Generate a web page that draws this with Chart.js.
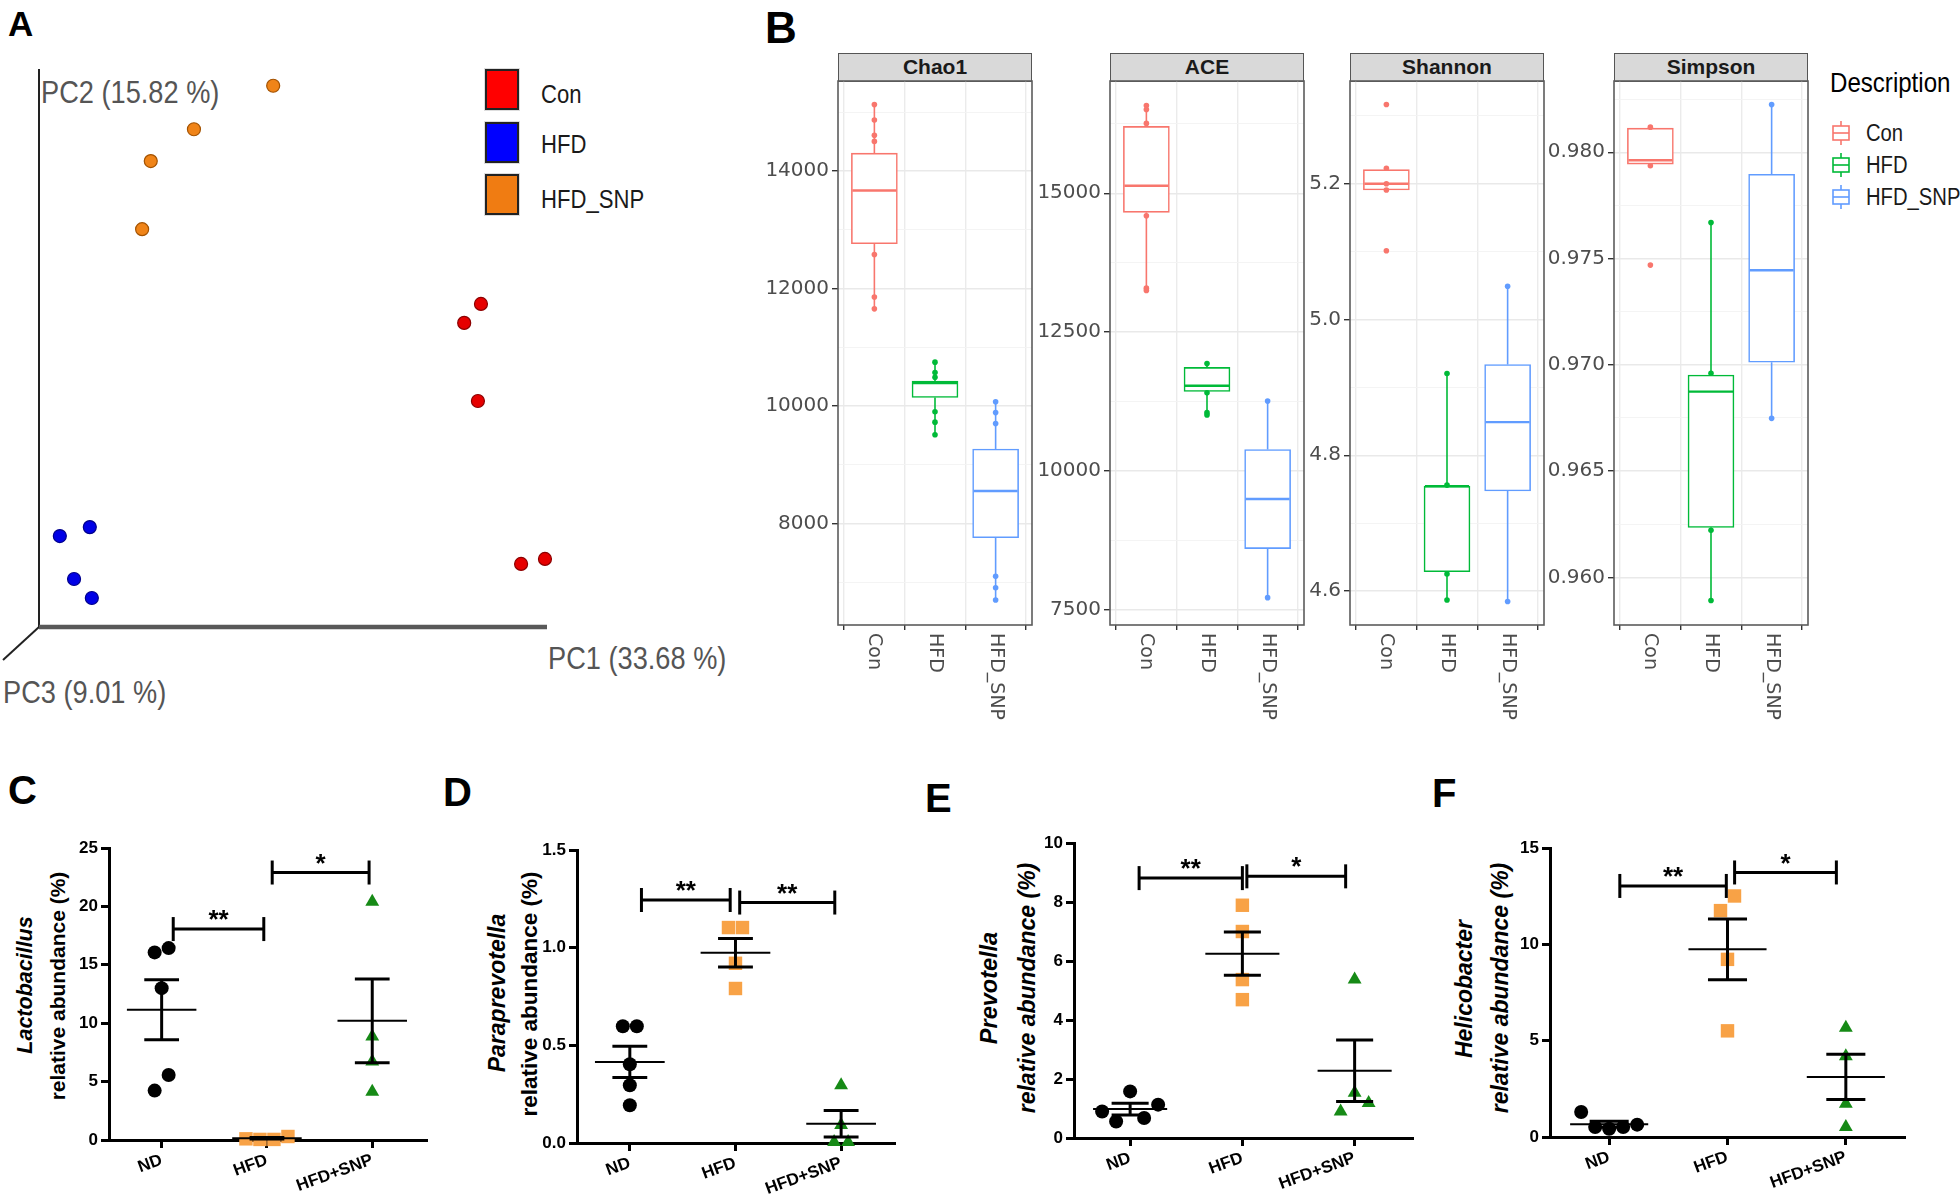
<!DOCTYPE html>
<html>
<head>
<meta charset="utf-8">
<title>Gut microbiota: PCoA, alpha diversity and genus abundance</title>
<script src="https://cdn.jsdelivr.net/npm/chart.js@4.4.1/dist/chart.umd.min.js"></script>
<style>
  html, body { margin: 0; background: #fff; }
  body { position: relative; width: 1960px; height: 1195px; overflow: hidden;
         font-family: "Liberation Sans", Arial, sans-serif; }
  canvas { position: absolute; }
  .txt { position: absolute; white-space: nowrap; line-height: 1; }
  .letter { position: absolute; line-height: 1; font-weight: bold; color: #000; }
  .narrow { transform: scaleX(0.85); transform-origin: 0 50%; }
  .pc { color: #555; font-size: 32px; }
  .sq { position: absolute; box-sizing: border-box; width: 34px; height: 41px;
        border: 2px solid #222; box-shadow: 0 0 0 1px #ddd; }
  .leg { color: #1a1a1a; font-size: 26px; }
  .strip { position: absolute; box-sizing: border-box; top: 53px; width: 194px; height: 29px;
           background: #d9d9d9; border: 1.5px solid #555; text-align: center;
           font-weight: bold; font-size: 21px; line-height: 26px; color: #1a1a1a; }
  .ico { position: absolute; }
  .ytitle { position: absolute; white-space: nowrap; line-height: 1; font-weight: bold;
            color: #000; transform: translate(-50%, -50%) rotate(-90deg); }
  .it { font-style: italic; }
</style>
</head>
<body>
<!-- panel letters -->
<div class="letter" style="left:8px;top:6px;font-size:35px">A</div>
<div class="letter" style="left:765px;top:6px;font-size:44px">B</div>
<div class="letter" style="left:8px;top:770px;font-size:40px">C</div>
<div class="letter" style="left:443px;top:772px;font-size:40px">D</div>
<div class="letter" style="left:925px;top:778px;font-size:40px">E</div>
<div class="letter" style="left:1432px;top:773px;font-size:40px">F</div>

<!-- A: axis names and legend -->
<div class="txt pc narrow" style="left:41px;top:76px">PC2 (15.82 %)</div>
<div class="txt pc narrow" style="left:548px;top:642px">PC1 (33.68 %)</div>
<div class="txt pc narrow" style="left:3px;top:676px">PC3 (9.01 %)</div>
<div class="sq" style="left:485px;top:69px;background:#ff0000"></div>
<div class="sq" style="left:485px;top:122px;background:#0000ff"></div>
<div class="sq" style="left:485px;top:174px;background:#f07c12"></div>
<div class="txt leg narrow" style="left:541px;top:81px">Con</div>
<div class="txt leg narrow" style="left:541px;top:131px">HFD</div>
<div class="txt leg narrow" style="left:541px;top:186px">HFD_SNP</div>

<!-- B: facet strips and legend -->
<div class="strip" style="left:838px">Chao1</div>
<div class="strip" style="left:1110px">ACE</div>
<div class="strip" style="left:1350px">Shannon</div>
<div class="strip" style="left:1614px">Simpson</div>
<div class="txt" style="left:1830px;top:69px;font-size:28px;color:#000;transform:scaleX(0.86);transform-origin:0 50%">Description</div>
<svg class="ico" style="left:1831px;top:120px" width="20" height="26"><g stroke="#F8766D" stroke-width="1.6" fill="#fff"><line x1="10" y1="1" x2="10" y2="25"/><rect x="2" y="6" width="16" height="14"/><line x1="2" y1="13" x2="18" y2="13"/></g></svg>
<svg class="ico" style="left:1831px;top:152px" width="20" height="26"><g stroke="#00BA38" stroke-width="1.6" fill="#fff"><line x1="10" y1="1" x2="10" y2="25"/><rect x="2" y="6" width="16" height="14"/><line x1="2" y1="13" x2="18" y2="13"/></g></svg>
<svg class="ico" style="left:1831px;top:184px" width="20" height="26"><g stroke="#619CFF" stroke-width="1.6" fill="#fff"><line x1="10" y1="1" x2="10" y2="25"/><rect x="2" y="6" width="16" height="14"/><line x1="2" y1="13" x2="18" y2="13"/></g></svg>
<div class="txt" style="left:1866px;top:122px;font-size:23px;color:#1a1a1a;transform:scaleX(0.88);transform-origin:0 50%">Con</div>
<div class="txt" style="left:1866px;top:154px;font-size:23px;color:#1a1a1a;transform:scaleX(0.88);transform-origin:0 50%">HFD</div>
<div class="txt" style="left:1866px;top:186px;font-size:23px;color:#1a1a1a;transform:scaleX(0.88);transform-origin:0 50%">HFD_SNP</div>

<!-- C-F: y axis titles -->
<div class="ytitle it" style="left:26px;top:985px;font-size:21.5px">Lactobacillus</div>
<div class="ytitle" style="left:57px;top:986px;font-size:21px">relative abundance (%)</div>
<div class="ytitle it" style="left:497px;top:993px;font-size:23px">Paraprevotella</div>
<div class="ytitle" style="left:530px;top:994px;font-size:22.5px">relative abundance (%)</div>
<div class="ytitle it" style="left:990px;top:988px;font-size:23.5px">Prevotella</div>
<div class="ytitle it" style="left:1027px;top:988px;font-size:23px">relative abundance (%)</div>
<div class="ytitle it" style="left:1464px;top:989px;font-size:23px">Helicobacter</div>
<div class="ytitle it" style="left:1500px;top:988px;font-size:23px">relative abundance (%)</div>

<canvas id="pcoa"></canvas>
<canvas id="chao1"></canvas>
<canvas id="ace"></canvas>
<canvas id="shannon"></canvas>
<canvas id="simpson"></canvas>
<canvas id="lacto"></canvas>
<canvas id="para"></canvas>
<canvas id="prev"></canvas>
<canvas id="heli"></canvas>

<script>
Chart.defaults.font.family = '"Liberation Sans", Arial, sans-serif';
Chart.defaults.animation = false;

// ---- A: PCoA, sample positions on the projected plot (percent of axis extent)
const pcoaLabels = ["Con", "HFD", "HFD_SNP"];
const conPcX = [87.0, 83.7, 86.4, 94.9, 99.6];
const conPcY = [57.9, 54.5, 40.5, 11.3, 12.2];
const hfdPcX = [10.0, 4.1, 6.9, 10.4];
const hfdPcY = [17.9, 16.3, 8.6, 5.2];
const snpPcX = [46.1, 30.5, 22.0, 20.3];
const snpPcY = [97.0, 89.2, 83.5, 71.3];

// ---- B: alpha diversity, [min, q1, median, q3, max] per group + plotted samples
const alphaGroups = ["Con", "HFD", "HFD_SNP"];
const chao1Box = [[11655, 12763, 13670, 14305, 15132], [9510, 10145, 10393, 10426, 10747], [6698, 7759, 8554, 9269, 10072]];
const chao1Pts = [[15132, 14868, 14611, 14506, 12579, 11856, 11655], [10747, 10570, 10490, 9903, 9726, 9510], [10072, 9888, 9702, 7100, 6907, 6698]];
const aceBox = [[13248, 14656, 15136, 16206, 16582], [11003, 11428, 11531, 11862, 11938], [7712, 8597, 9489, 10383, 11255]];
const acePts = [[16582, 16510, 16260, 14595, 13290, 13248], [11930, 11403, 11046, 11003], [11255, 7712]];
const shannonBox = [[5.1909, 5.1909, 5.2000, 5.2208, 5.2228], [4.5867, 4.6284, 4.7545, 4.7545, 4.9204], [4.5846, 4.7473, 4.8488, 4.9337, 5.0490]];
const shannonPts = [[5.3167, 5.2228, 5.2000, 5.1909, 5.1012], [4.9204, 4.7560, 4.6250, 4.5867], [5.0490, 4.5846]];
const simpsonBox = [[0.97936, 0.97944, 0.97962, 0.98113, 0.98118], [0.95891, 0.96235, 0.96874, 0.96952, 0.97669], [0.96748, 0.97012, 0.97445, 0.97896, 0.98224]];
const simpsonPts = [[0.98118, 0.97936, 0.97469], [0.97669, 0.96960, 0.96222, 0.95891], [0.98224, 0.96748]];

// ---- C-F: relative abundance (%) of genera, mean and SEM, significance brackets [from, to, height, mark]
const genusGroups = ["ND", "HFD", "HFD+SNP"];
const lactoND = [16.06, 16.43, 13.0, 4.23, 5.57];
const lactoHFD = [0.1, 0.05, 0.05, 0.3];
const lactoSNP = [20.4, 8.86, 6.72, 4.14];
const lactoMean = [11.15, 0.15, 10.2];
const lactoSem = [2.57, 0.06, 3.58];
const lactoSig = [[1.11, 1.97, 18.06, "**"], [2.05, 2.97, 22.9, "*"]];

const paraND = [0.598, 0.598, 0.403, 0.296, 0.193];
const paraHFD = [1.103, 1.103, 0.92, 0.791];
const paraSNP = [0.296, 0.092, 0.005, 0.005];
const paraMean = [0.415, 0.974, 0.099];
const paraSem = [0.08, 0.073, 0.068];
const paraSig = [[1.11, 1.95, 1.244, "**"], [2.04, 2.94, 1.231, "**"]];

const prevND = [0.90, 0.56, 1.58, 0.68, 1.13];
const prevHFD = [7.89, 7.0, 5.37, 4.69];
const prevSNP = [5.37, 0.90, 1.53, 1.19];
const prevMean = [0.98, 6.25, 2.28];
const prevSem = [0.2, 0.73, 1.04];
const prevSig = [[1.08, 2.0, 8.81, "**"], [2.04, 2.92, 8.87, "*"]];

const heliND = [1.30, 0.52, 0.43, 0.52, 0.64];
const heliHFD = [11.75, 12.51, 9.22, 5.51];
const heliSNP = [5.67, 4.19, 1.73, 0.52];
const heliMean = [0.66, 9.74, 3.12];
const heliSem = [0.16, 1.58, 1.17];
const heliSig = [[1.09, 1.99, 13.03, "**"], [2.06, 2.92, 13.73, "*"]];

// ---- helpers
function place(id, rect) {
  const c = document.getElementById(id);
  c.width = rect[2];
  c.height = rect[3];
  Object.assign(c.style, {left: rect[0] + "px", top: rect[1] + "px", width: rect[2] + "px", height: rect[3] + "px"});
  return c;
}

// padding + axis sizes so that the chart area lands on `area` (page coords)
function fit(rect, area) {
  return {
    padding: {left: 0, top: area[1] - rect[1], right: rect[0] + rect[2] - area[2], bottom: 0},
    yWidth: area[0] - rect[0],
    xHeight: rect[1] + rect[3] - area[3]
  };
}

function seg(ctx, x1, y1, x2, y2) {
  ctx.beginPath();
  ctx.moveTo(x1, y1);
  ctx.lineTo(x2, y2);
  ctx.stroke();
}

// tick values on a fixed step inside [lo, hi]
function stepTicks(lo, hi, step) {
  const out = [];
  for (let k = Math.ceil(lo / step - 1e-9); k * step <= hi + 1e-12; k++) {
    out.push({value: Math.round(k * step * 1e6) / 1e6});
  }
  return out;
}

const categoryTicks = s => { s.ticks = [1, 2, 3].map(v => ({value: v})); };

// ---- A
const pcoaColors = ["#e60000", "#0000e6", "#f08418"];
const pcoaEdges = ["#8c0000", "#00008c", "#a35200"];
const pcoaRect = [0, 0, 760, 740];
const pcoaArea = [39, 69, 547, 627];

const pcoaAxes = {
  id: "pcoaAxes",
  beforeDatasetsDraw(chart) {
    const {ctx, chartArea: a} = chart;
    ctx.save();
    ctx.strokeStyle = "#222";
    ctx.lineWidth = 2;
    seg(ctx, a.left, a.top, a.left, a.bottom);
    seg(ctx, a.left, a.bottom, a.left - 36, a.bottom + 33);
    ctx.strokeStyle = "#595959";
    ctx.lineWidth = 4.5;
    seg(ctx, a.left, a.bottom, a.right, a.bottom);
    ctx.restore();
  }
};

new Chart(place("pcoa", pcoaRect), {
  type: "scatter",
  data: {
    datasets: [[conPcX, conPcY], [hfdPcX, hfdPcY], [snpPcX, snpPcY]].map(([xs, ys], g) => ({
      label: pcoaLabels[g],
      data: xs.map((x, i) => ({x: x, y: ys[i]})),
      pointRadius: 6.5,
      backgroundColor: pcoaColors[g],
      borderColor: pcoaEdges[g],
      borderWidth: 1.2,
      clip: false
    }))
  },
  options: {
    responsive: false,
    events: [],
    layout: {padding: {
      left: pcoaArea[0] - pcoaRect[0], top: pcoaArea[1] - pcoaRect[1],
      right: pcoaRect[0] + pcoaRect[2] - pcoaArea[2], bottom: pcoaRect[1] + pcoaRect[3] - pcoaArea[3]
    }},
    plugins: {legend: {display: false}, tooltip: {enabled: false}},
    scales: {x: {display: false, min: 0, max: 100}, y: {display: false, min: 0, max: 100}}
  },
  plugins: [pcoaAxes]
});

// ---- B
const alphaColors = ["#F8766D", "#00BA38", "#619CFF"];
const ggFont = '"DejaVu Sans", "Liberation Sans", sans-serif';

function boxFacet(id, left, right, box, pts, range, major, minor, digits) {
  const area = [left, 81, right, 625];
  const rect = [left - 75, 40, right - left + 87, 700];
  const f = fit(rect, area);
  const isMajor = v => v !== undefined && Math.abs(v / major - Math.round(v / major)) < 1e-6;

  const whiskers = {
    id: "whiskers",
    beforeDatasetsDraw(chart) {
      const {ctx, scales: {x, y}} = chart;
      ctx.save();
      ctx.lineWidth = 1.6;
      box.forEach((b, g) => {
        const px = x.getPixelForValue(g + 1);
        ctx.strokeStyle = alphaColors[g];
        seg(ctx, px, y.getPixelForValue(b[0]), px, y.getPixelForValue(b[1]));
        seg(ctx, px, y.getPixelForValue(b[3]), px, y.getPixelForValue(b[4]));
      });
      ctx.restore();
    },
    afterDatasetsDraw(chart) {
      const {ctx, scales: {x, y}} = chart;
      ctx.save();
      ctx.lineWidth = 2.4;
      box.forEach((b, g) => {
        const px = x.getPixelForValue(g + 1);
        const py = y.getPixelForValue(b[2]);
        ctx.strokeStyle = alphaColors[g];
        seg(ctx, px - 22, py, px + 22, py);
      });
      ctx.restore();
    },
    afterDraw(chart) {
      const {ctx, chartArea: a, scales: {x}} = chart;
      ctx.save();
      ctx.strokeStyle = "#5c5c5c";
      ctx.lineWidth = 1.6;
      ctx.strokeRect(a.left, a.top, a.right - a.left, a.bottom - a.top);
      ctx.fillStyle = "#4d4d4d";
      ctx.font = "19px " + ggFont;
      ctx.textAlign = "left";
      ctx.textBaseline = "middle";
      alphaGroups.forEach((name, g) => {
        ctx.save();
        ctx.translate(x.getPixelForValue(g + 1), a.bottom + 8);
        ctx.rotate(Math.PI / 2);
        ctx.fillText(name, 0, 0);
        ctx.restore();
      });
      ctx.restore();
    }
  };

  const datasets = pts.map((vals, g) => ({
    type: "scatter",
    data: vals.map(v => ({x: g + 1, y: v})),
    pointRadius: 2.8,
    backgroundColor: alphaColors[g],
    borderWidth: 0,
    order: 1
  }));
  datasets.push({
    type: "bar",
    data: box.map((b, g) => ({x: g + 1, y: [b[1], b[3]]})),
    backgroundColor: "#fff",
    borderColor: alphaColors,
    borderWidth: 1.6,
    borderSkipped: false,
    barThickness: 46,
    order: 2
  });

  new Chart(place(id, rect), {
    type: "scatter",
    data: {datasets: datasets},
    options: {
      responsive: false,
      events: [],
      layout: {padding: f.padding},
      plugins: {legend: {display: false}, tooltip: {enabled: false}},
      scales: {
        x: {
          type: "linear", min: 0.4, max: 3.6, offset: false,
          afterBuildTicks: categoryTicks,
          afterFit: s => { s.height = f.xHeight; },
          border: {display: false},
          grid: {color: "#ebebeb", lineWidth: 1.4, tickColor: "#333", tickLength: 5},
          ticks: {display: false}
        },
        y: {
          type: "linear", min: range[0], max: range[1], beginAtZero: false,
          afterBuildTicks: s => { s.ticks = stepTicks(range[0], range[1], minor); },
          afterFit: s => { s.width = f.yWidth; },
          border: {display: false},
          grid: {
            color: c => isMajor(c.tick && c.tick.value) ? "#e9e9e9" : "#f3f3f3",
            lineWidth: c => isMajor(c.tick && c.tick.value) ? 1.4 : 0.9,
            tickColor: c => isMajor(c.tick && c.tick.value) ? "#333" : "rgba(0,0,0,0)",
            tickLength: 6
          },
          ticks: {
            autoSkip: false, padding: 3,
            color: "#4d4d4d", font: {size: 20, family: ggFont},
            callback: v => isMajor(v) ? v.toFixed(digits) : ""
          }
        }
      }
    },
    plugins: [whiskers]
  });
}

boxFacet("chao1", 838, 1032, chao1Box, chao1Pts, [6272, 15534], 2000, 1000, 0);
boxFacet("ace", 1110, 1304, aceBox, acePts, [7219, 17024], 2500, 1250, 0);
boxFacet("shannon", 1350, 1544, shannonBox, shannonPts, [4.5499, 5.3514], 0.2, 0.1, 1);
boxFacet("simpson", 1614, 1808, simpsonBox, simpsonPts, [0.95776, 0.98335], 0.005, 0.0025, 3);

// ---- C-F
const genusColors = ["#000000", "#f8a246", "#168a16"];
const genusShapes = ["circle", "rect", "triangle"];
const genusRadius = [7, 9.5, 8];

// horizontal spread (px) for samples whose markers would overlap, kept in sample order
function spread(vals, pxPerUnit) {
  const order = vals.map((v, i) => i).sort((a, b) => vals[a] - vals[b]);
  const off = vals.map(() => 0);
  let run = [];
  const flush = () => {
    run.sort((a, b) => a - b);
    run.forEach((idx, k) => { off[idx] = (k - (run.length - 1) / 2) * 14; });
  };
  order.forEach((idx, k) => {
    if (k > 0 && (vals[idx] - vals[order[k - 1]]) * pxPerUnit >= 16.5) {
      flush();
      run = [];
    }
    run.push(idx);
  });
  flush();
  return off;
}

function dotPlot(id, rect, area, groups, means, sems, sigs, yMax, yStep, xMax, digits) {
  const f = fit(rect, area);
  const xMin = 0.5;
  const pxX = (area[2] - area[0]) / (xMax - xMin);
  const pxY = (area[3] - area[1]) / yMax;

  const datasets = groups.map((vals, g) => {
    const off = spread(vals, pxY);
    return {
      data: vals.map((v, i) => ({x: g + 1 + off[i] / pxX, y: v})),
      pointStyle: genusShapes[g],
      pointRadius: genusRadius[g],
      backgroundColor: genusColors[g],
      borderWidth: 0,
      clip: false
    };
  });

  const stats = {
    id: "meanSem",
    afterDatasetsDraw(chart) {
      const {ctx, scales: {x, y}} = chart;
      ctx.save();
      ctx.strokeStyle = "#000";
      ctx.fillStyle = "#000";
      means.forEach((m, g) => {
        const c = g + 1;
        const hi = y.getPixelForValue(m + sems[g]);
        const lo = y.getPixelForValue(m - sems[g]);
        ctx.lineWidth = 2;
        seg(ctx, x.getPixelForValue(c - 0.33), y.getPixelForValue(m), x.getPixelForValue(c + 0.33), y.getPixelForValue(m));
        ctx.lineWidth = 3;
        seg(ctx, x.getPixelForValue(c), hi, x.getPixelForValue(c), lo);
        seg(ctx, x.getPixelForValue(c - 0.165), hi, x.getPixelForValue(c + 0.165), hi);
        seg(ctx, x.getPixelForValue(c - 0.165), lo, x.getPixelForValue(c + 0.165), lo);
      });
      ctx.font = 'bold 26px "Liberation Sans", Arial, sans-serif';
      ctx.textAlign = "center";
      ctx.textBaseline = "alphabetic";
      sigs.forEach(([a, b, v, mark]) => {
        const x1 = x.getPixelForValue(a), x2 = x.getPixelForValue(b), py = y.getPixelForValue(v);
        ctx.lineWidth = 3;
        seg(ctx, x1, py, x2, py);
        seg(ctx, x1, py - 12, x1, py + 12);
        seg(ctx, x2, py - 12, x2, py + 12);
        ctx.fillText(mark, (x1 + x2) / 2, py - 16 + 0.58 * 26);
      });
      ctx.restore();
    }
  };

  new Chart(place(id, rect), {
    type: "scatter",
    data: {datasets: datasets},
    options: {
      responsive: false,
      events: [],
      layout: {padding: f.padding},
      plugins: {legend: {display: false}, tooltip: {enabled: false}},
      scales: {
        x: {
          type: "linear", min: xMin, max: xMax,
          afterBuildTicks: categoryTicks,
          afterFit: s => { s.height = f.xHeight; },
          border: {color: "#000", width: 3},
          grid: {drawOnChartArea: false, tickLength: 8, tickWidth: 3, tickColor: "#000"},
          ticks: {
            autoSkip: false, minRotation: 20, maxRotation: 20,
            padding: 2, color: "#000", font: {size: 17, weight: "bold"},
            callback: v => genusGroups[v - 1] || ""
          }
        },
        y: {
          type: "linear", min: 0, max: yMax,
          afterBuildTicks: s => { s.ticks = stepTicks(0, yMax, yStep); },
          afterFit: s => { s.width = f.yWidth; },
          border: {color: "#000", width: 3},
          grid: {drawOnChartArea: false, tickLength: 8, tickWidth: 3, tickColor: "#000"},
          ticks: {
            padding: 3, color: "#000", font: {size: 17, weight: "bold"},
            callback: v => v.toFixed(digits)
          }
        }
      }
    },
    plugins: [stats]
  });
}

dotPlot("lacto", [40, 760, 420, 435], [109, 848, 427, 1140], [lactoND, lactoHFD, lactoSNP], lactoMean, lactoSem, lactoSig, 25, 5, 3.52, 0);
dotPlot("para", [510, 760, 420, 435], [577, 850, 895, 1143], [paraND, paraHFD, paraSNP], paraMean, paraSem, paraSig, 1.5, 0.5, 3.51, 1);
dotPlot("prev", [1000, 760, 440, 435], [1074, 843, 1413, 1138], [prevND, prevHFD, prevSNP], prevMean, prevSem, prevSig, 10, 2, 3.52, 0);
dotPlot("heli", [1480, 760, 470, 435], [1550, 848, 1905, 1137], [heliND, heliHFD, heliSNP], heliMean, heliSem, heliSig, 15, 5, 3.5, 0);
</script>
</body>
</html>
